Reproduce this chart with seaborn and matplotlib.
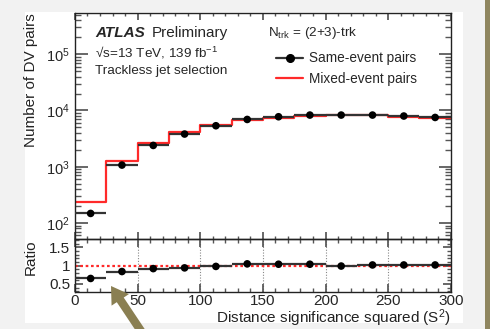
import numpy as np
import pandas as pd

import matplotlib.pyplot as plt
import seaborn as sns
from matplotlib.patches import Rectangle
from matplotlib.lines import Line2D
from matplotlib.ticker import MultipleLocator, LogLocator, FixedLocator, NullFormatter

# bins of S^2, 12 bins of width 25
edges = [0, 25, 50, 75, 100, 125, 150, 175, 200, 225, 250, 275, 300]
same_event = [148, 1070, 2390, 3810, 5350, 6920, 7730, 8280, 8280, 8280, 7960, 7510]
mixed_event = [239, 1260, 2630, 4130, 5500, 6750, 7450, 7950, 8350, 8150, 7800, 7400]
ratio = [0.65, 0.84, 0.92, 0.94, 0.98, 1.05, 1.04, 1.04, 0.99, 1.02, 1.02, 1.02]

sns.set_theme(style="ticks")
plt.rcParams['font.family'] = ['Liberation Sans', 'DejaVu Sans']
plt.rcParams['mathtext.fontset'] = 'custom'
plt.rcParams['mathtext.rm'] = 'Liberation Sans'
plt.rcParams['mathtext.it'] = 'Liberation Sans:italic'
plt.rcParams['mathtext.bf'] = 'Liberation Sans:bold'

edges = np.array(edges)
centers = (edges[:-1] + edges[1:]) / 2
df = pd.DataFrame({'x': centers, 'same': same_event, 'mixed': mixed_event, 'ratio': ratio,
                   'lo': edges[:-1], 'hi': edges[1:]})
step_df = pd.DataFrame({'x': edges, 'y': np.append(mixed_event, mixed_event[-1])})

fig = plt.figure(figsize=(4.9, 3.29), dpi=100)
fig.patch.set_facecolor('#f2f2f2')
fig.patches.append(Rectangle((25 / 490, 1 - 323 / 329), 438 / 490, 311 / 329,
                             transform=fig.transFigure, facecolor='white', edgecolor='none', zorder=-5))
fig.patches.append(Rectangle((485 / 490, 0), 5 / 490, 1, transform=fig.transFigure,
                             facecolor='#8f8660', edgecolor='none', zorder=-5))

ax = fig.add_axes([0.153, 0.2736, 0.767, 0.687])
axr = fig.add_axes([0.153, 0.1125, 0.767, 0.161], sharex=ax)
for a in (ax, axr):
    a.set_facecolor('none')
    for s in a.spines.values():
        s.set_color('#222222')
        s.set_linewidth(1.0)

# top panel
sns.lineplot(data=step_df, x='x', y='y', drawstyle='steps-post', color='#ff2a2a', lw=1.6,
             ax=ax, zorder=2)
ax.hlines(df['same'], df['lo'], df['hi'], color='#333333', lw=1.6, zorder=3)
sns.scatterplot(data=df, x='x', y='same', color='black', s=30, edgecolor='none', ax=ax, zorder=4)
ax.set_yscale('log')
ax.set_xlim(0, 300)
ax.set_ylim(52, 5.4e5)
ax.set_xlabel('')
ax.yaxis.set_major_locator(FixedLocator([1e2, 1e3, 1e4, 1e5]))
ax.yaxis.set_minor_locator(LogLocator(base=10, subs=np.arange(2, 10)))
ax.yaxis.set_minor_formatter(NullFormatter())
ax.xaxis.set_major_locator(MultipleLocator(50))
ax.xaxis.set_minor_locator(MultipleLocator(10))
ax.tick_params(axis='both', which='both', direction='in', top=True, right=True,
               labelbottom=False, color='#555555')
ax.tick_params(axis='y', which='major', length=9, labelsize=10.5, pad=4)
ax.tick_params(axis='y', which='minor', length=4.5)
ax.tick_params(axis='x', which='major', length=5)
ax.tick_params(axis='x', which='minor', length=2.5)
ax.set_ylabel('Number of DV pairs', fontsize=11, loc='top', color='#222222')
ax.yaxis.set_label_coords(-0.098, 1.0)

h_same = Line2D([], [], color='#333333', lw=1.6, marker='o', markersize=5.5,
                markerfacecolor='black', markeredgecolor='black')
h_mixed = Line2D([], [], color='#ff2a2a', lw=1.6)
ax.legend([h_same, h_mixed], ['Same-event pairs', 'Mixed-event pairs'], loc='upper left',
          bbox_to_anchor=(0.535, 0.83), frameon=False, fontsize=9.8, handlelength=2.0,
          handletextpad=0.45, labelspacing=0.45, borderpad=0, borderaxespad=0)

ax.text(0.053, 0.91, 'ATLAS', transform=ax.transAxes, fontsize=11, fontweight='bold',
        fontstyle='italic', va='center', ha='left')
ax.text(0.205, 0.91, 'Preliminary', transform=ax.transAxes, fontsize=11, va='center', ha='left')
ax.text(0.053, 0.823, '\u221as=13 TeV, 139 fb$^{-1}$', transform=ax.transAxes, fontsize=9.7,
        va='center', ha='left')
ax.text(0.053, 0.743, 'Trackless jet selection', transform=ax.transAxes, fontsize=9.7,
        va='center', ha='left')
ax.text(0.514, 0.91, r'N$_{\mathrm{trk}}$ = (2+3)-trk', transform=ax.transAxes, fontsize=9.7,
        va='center', ha='left')

# ratio panel
axr.axhline(1.0, color='#ff2a2a', lw=1.6, ls=(0, (1.2, 1.2)), zorder=2)
axr.hlines(df['ratio'], df['lo'], df['hi'], color='#333333', lw=1.6, zorder=3)
sns.scatterplot(data=df, x='x', y='ratio', color='black', s=30, edgecolor='none', ax=axr, zorder=4)
axr.set_ylim(0.28, 1.73)
axr.set_xlim(0, 300)
axr.yaxis.set_major_locator(FixedLocator([0.5, 1.0, 1.5]))
axr.set_yticklabels(['0.5', '1', '1.5'])
axr.yaxis.set_minor_locator(MultipleLocator(0.1))
axr.xaxis.set_major_locator(MultipleLocator(50))
axr.xaxis.set_minor_locator(MultipleLocator(10))
axr.grid(axis='x', which='major', color='#888888', ls=(0, (1, 1.5)), lw=0.8)
axr.tick_params(axis='both', which='both', direction='in', top=True, right=True, color='#555555')
axr.tick_params(axis='both', which='major', labelsize=11, length=6)
axr.tick_params(axis='x', which='major', pad=1.5)
axr.tick_params(axis='x', which='minor', length=3)
axr.tick_params(axis='y', which='minor', length=3)
axr.set_xlabel('Distance significance squared (S$^{2}$)', fontsize=11, loc='right', color='#222222')
axr.xaxis.set_label_coords(1.0, -0.30)
axr.set_ylabel('Ratio', fontsize=11, loc='top', color='#222222')
axr.yaxis.set_label_coords(-0.098, 1.0)

# arrow pointing at the first ratio bin
axr.annotate('', xy=(111 / 490, 1 - 286 / 329), xytext=(147 / 490, 1 - 340 / 329),
             xycoords='figure fraction', textcoords='figure fraction', annotation_clip=False,
             arrowprops=dict(facecolor='#8a7f52', edgecolor='none', width=6,
                             headwidth=15, headlength=12), zorder=10)

fig.savefig('out.png', dpi=100, facecolor=fig.get_facecolor())
